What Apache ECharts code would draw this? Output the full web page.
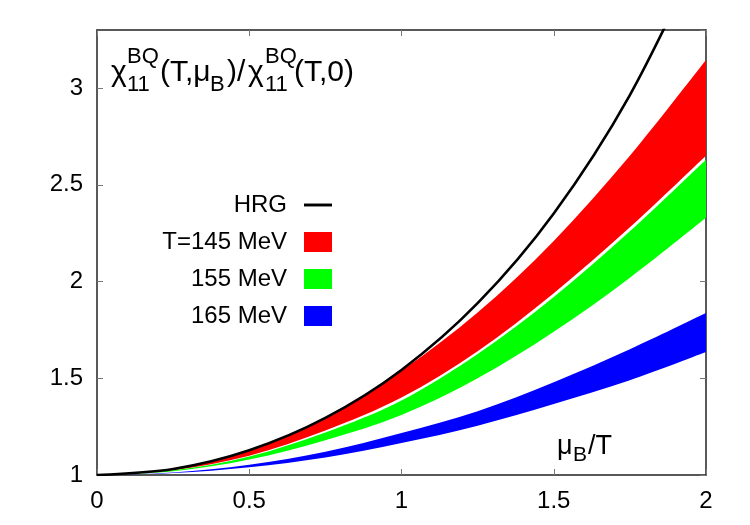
<!DOCTYPE html>
<html>
<head>
<meta charset="utf-8">
<script src="https://cdn.jsdelivr.net/npm/echarts@6/dist/echarts.min.js"></script>
<style>
  html, body { margin: 0; padding: 0; background: #fff; }
  #chart { width: 750px; height: 525px; }
</style>
</head>
<body>
<div id="chart"></div>
<script>
var chartDom = document.getElementById('chart');
var myChart = echarts.init(chartDom);

// mu_B/T
var xs = [0, 0.25, 0.5, 0.75, 1, 1.25, 1.5, 1.75, 2];
// HRG
var hrg = [1, 1.031, 1.128, 1.295, 1.543, 1.888, 2.352, 2.964, 3.762];
// T=145 MeV band
var t145Low = [1, 1.025, 1.10, 1.23, 1.40, 1.64, 1.94, 2.28, 2.65];
var t145High = [1, 1.033, 1.13, 1.30, 1.54, 1.84, 2.21, 2.65, 3.145];
// 155 MeV band
var t155Low = [1, 1.02, 1.08, 1.18, 1.31, 1.50, 1.74, 2.02, 2.33];
var t155High = [1, 1.024, 1.096, 1.22, 1.385, 1.625, 1.92, 2.26, 2.63];
// 165 MeV band
var t165Low = [1, 1.01, 1.04, 1.09, 1.165, 1.255, 1.367, 1.49, 1.636];
var t165High = [1, 1.013, 1.053, 1.12, 1.217, 1.33, 1.48, 1.65, 1.837];

var xTicks = [0, 0.5, 1, 1.5, 2];
var yTicks = [1, 1.5, 2, 2.5, 3];

var font = 'Liberation Sans';

// smooth curve through pixel points (catmull-rom -> bezier)
function spline(pts, start) {
    var d = (start ? 'M' : 'L') + pts[0][0] + ',' + pts[0][1];
    for (var i = 0; i < pts.length - 1; i++) {
        var p0 = pts[Math.max(i - 1, 0)];
        var p1 = pts[i];
        var p2 = pts[i + 1];
        var p3 = pts[Math.min(i + 2, pts.length - 1)];
        var c1x = p1[0] + (p2[0] - p0[0]) / 6, c1y = p1[1] + (p2[1] - p0[1]) / 6;
        var c2x = p2[0] - (p3[0] - p1[0]) / 6, c2y = p2[1] - (p3[1] - p1[1]) / 6;
        d += 'C' + c1x + ',' + c1y + ' ' + c2x + ',' + c2y + ' ' + p2[0] + ',' + p2[1];
    }
    return d;
}

function band(name, lo, hi, color) {
    return {
        name: name,
        type: 'custom',
        coordinateSystem: 'cartesian2d',
        data: [[0, 1]],
        itemStyle: { color: color },
        silent: true,
        clip: true,
        z: 2,
        renderItem: function (params, api) {
            var up = xs.map(function (x, i) { return api.coord([x, hi[i]]); });
            var dn = xs.map(function (x, i) { return api.coord([x, lo[i]]); }).reverse();
            var d = spline(up, true) + spline(dn, false) + 'Z';
            return {
                type: 'path',
                shape: { pathData: d },
                style: { fill: color, stroke: null }
            };
        }
    };
}

var tickStyle = { show: true, inside: true, length: 6, lineStyle: { color: '#777', width: 1 } };
var lineStyle = { show: true, onZero: false, lineStyle: { color: '#222', width: 1.5 } };

function txt(s, x, y, size) {
    return {
        type: 'text',
        style: { text: s, x: x, y: y, font: size + 'px ' + font, textVerticalAlign: 'middle', fill: '#000' }
    };
}

var option = {
    animation: false,
    backgroundColor: '#fff',
    grid: {
        left: 97,
        right: 44,
        top: 30,
        bottom: 50
    },
    xAxis: [{
        type: 'value',
        min: 0,
        max: 2,
        interval: 0.5,
        position: 'bottom',
        axisLine: lineStyle,
        axisTick: tickStyle,
        splitLine: { show: false },
        axisLabel: {
            margin: 14,
            fontSize: 24,
            fontFamily: font,
            color: '#000',
            formatter: function (v) { return xTicks.indexOf(v) >= 0 ? String(v) : ''; }
        }
    }, {
        type: 'value',
        min: 0,
        max: 2,
        interval: 0.5,
        position: 'top',
        axisLine: lineStyle,
        axisTick: tickStyle,
        splitLine: { show: false },
        axisLabel: { show: false }
    }],
    yAxis: [{
        type: 'value',
        min: 1,
        max: 3.3,
        interval: 0.5,
        position: 'left',
        axisLine: lineStyle,
        axisTick: tickStyle,
        splitLine: { show: false },
        axisLabel: {
            margin: 14,
            fontSize: 24,
            fontFamily: font,
            color: '#000',
            showMaxLabel: false,
            formatter: function (v) { return yTicks.indexOf(v) >= 0 ? String(v) : ''; }
        }
    }, {
        type: 'value',
        min: 1,
        max: 3.3,
        interval: 0.5,
        position: 'right',
        axisLine: lineStyle,
        axisTick: tickStyle,
        splitLine: { show: false },
        axisLabel: { show: false }
    }],
    legend: {
        orient: 'vertical',
        right: 413,
        top: 188,
        align: 'right',
        itemWidth: 28,
        itemHeight: 20,
        itemGap: 13,
        selectedMode: false,
        textStyle: { fontSize: 24, fontFamily: font, color: '#000', padding: [0, 12, 0, 0] },
        data: [
            { name: 'HRG', icon: 'path://M0,0 L25,0 L25,2.6 L0,2.6 Z', itemStyle: { color: '#000' } },
            { name: 'T=145 MeV', icon: 'rect', itemStyle: { color: '#ff0000' } },
            { name: '155 MeV', icon: 'rect', itemStyle: { color: '#00ff00' } },
            { name: '165 MeV', icon: 'rect', itemStyle: { color: '#0000ff' } }
        ]
    },
    graphic: [
        // y title: chi_11^BQ(T,mu_B)/chi_11^BQ(T,0)
        txt('χ', 111, 72.5, 30),
        txt('BQ', 127, 57, 22),
        txt('11', 127, 85, 22),
        txt('(T,μ', 160, 72.5, 30),
        txt('B', 210, 85, 22),
        txt(')/', 227, 72.5, 30),
        txt('χ', 248, 72.5, 30),
        txt('BQ', 265, 57, 22),
        txt('11', 265, 85, 22),
        txt('(T,0)', 294, 72.5, 30),
        // x title: mu_B/T
        txt('μ', 557, 447, 27),
        txt('B', 573, 455.5, 21),
        txt('/T', 588, 447, 27)
    ],
    series: [
        band('T=145 MeV', t145Low, t145High, '#ff0000'),
        band('155 MeV', t155Low, t155High, '#00ff00'),
        band('165 MeV', t165Low, t165High, '#0000ff'),
        {
            name: 'HRG',
            type: 'line',
            data: xs.map(function (x, i) { return [x, hrg[i]]; }),
            smooth: 0.3,
            showSymbol: false,
            itemStyle: { color: '#000' },
            lineStyle: { color: '#000', width: 2.6 },
            silent: true,
            z: 5
        }
    ]
};

option && myChart.setOption(option);
window.addEventListener('resize', function () {
    myChart.resize();
});
</script>
</body>
</html>
